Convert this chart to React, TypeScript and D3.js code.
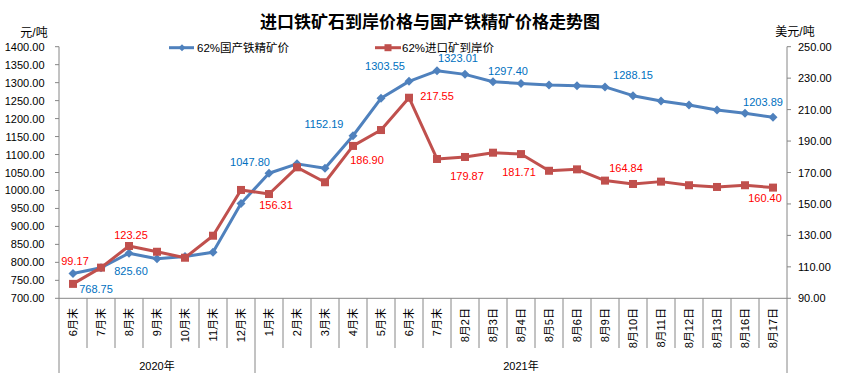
import React from 'react';
import * as d3 from 'd3';

const categories = ['6月末','7月末','8月末','9月末','10月末','11月末','12月末','1月末','2月末','3月末','4月末','5月末','6月末','7月末','8月2日','8月3日','8月4日','8月5日','8月6日','8月9日','8月10日','8月11日','8月12日','8月13日','8月16日','8月17日'];
const domesticPrice = [768.75,785,825.6,810,816,828,964,1047.8,1074,1062,1152.19,1256.5,1303.55,1333,1323.01,1302.6,1297.4,1293.5,1291.5,1288.15,1263.7,1249,1237.8,1223.9,1214.7,1203.89];
const importPrice = [99.17,109.5,123.25,119.6,115.8,129.8,158.9,156.31,173.3,163.8,186.9,197,217.55,178.6,179.87,182.6,181.71,171.1,172,164.84,162.7,164.2,161.9,160.8,161.9,160.4];
const yearLabels = ['2020年','2021年'];
const yearStarts = [0,7];
const yearEnds = [7,26];
const leftTicks = d3.range(700, 1401, 50);
const rightTicks = d3.range(90, 251, 20);
const labeledIdx = [0,2,7,10,12,14,16,19,25];
const seriesNames = ['62%国产铁精矿价','62%进口矿到岸价'];

// label placement (layout only)
const blueOffsets = [[23,15],[2,18],[-19,-11],[-29,-12],[-24,-15],[-7,-16],[-13,-13],[28,-12],[-10,-15]];
const redOffsets = [[2,-23],[2,-11],[7,11],[14,14],[28,-2],[2,19],[-2,18],[21,-13],[-8,10]];

const W = 842, H = 376;
const L = 59, R = 787, T = 46.7, B = 298.3;
const BLUE = '#4F81BD', RED = '#C0504D';
const FONT = '"Liberation Sans", "Noto Sans CJK SC", sans-serif';
const AXIS = '#868686';

export default function App() {
  const idx = d3.range(categories.length);
  const x = d3.scaleBand<number>().domain(idx).range([L, R]).padding(0);
  const cx = (i: number) => (x(i) as number) + x.bandwidth() / 2;
  const yL = d3.scaleLinear().domain([700, 1400]).range([B, T]);
  const yR = d3.scaleLinear().domain([90, 250]).range([B, T]);
  const fmt = d3.format('.2f');

  const blueLine = d3.line<number>().x((d, i) => cx(i)).y(d => yL(d))(domesticPrice) as string;
  const redLine = d3.line<number>().x((d, i) => cx(i)).y(d => yR(d))(importPrice) as string;

  const diamond = (px: number, py: number, r: number) => `M${px},${py - r}L${px + r},${py}L${px},${py + r}L${px - r},${py}Z`;

  return (
    <svg width={W} height={H} style={{ position: 'absolute', left: 0, top: 0, background: '#fff' }} fontFamily={FONT}>
      <rect x={0} y={0} width={W} height={H} fill="#fff" />
      <text x={430} y={22} textAnchor="middle" dominantBaseline="central" fontSize={17} fontWeight="bold" fill="#000">进口铁矿石到岸价格与国产铁精矿价格走势图</text>
      <text x={34} y={33} textAnchor="middle" dominantBaseline="central" fontSize={12} fill="#000">元/吨</text>
      <text x={795} y={32} textAnchor="middle" dominantBaseline="central" fontSize={12} fill="#000">美元/吨</text>

      {/* legend */}
      <line x1={169} x2={194} y1={47.7} y2={47.7} stroke={BLUE} strokeWidth={3} />
      <path d={diamond(182, 47.7, 3.5)} fill={BLUE} />
      <text x={197} y={47.7} dominantBaseline="central" fontSize={11.5} fill="#000">{seriesNames[0]}</text>
      <line x1={375} x2={401} y1={47.7} y2={47.7} stroke={RED} strokeWidth={3} />
      <rect x={384.5} y={44.2} width={7} height={7} fill={RED} />
      <text x={402} y={47.7} dominantBaseline="central" fontSize={11.5} fill="#000">{seriesNames[1]}</text>

      {/* left axis */}
      <line x1={L} x2={L} y1={T} y2={B} stroke={AXIS} strokeWidth={1} />
      {leftTicks.map(t => (
        <g key={'l' + t}>
          <line x1={L - 4} x2={L} y1={yL(t)} y2={yL(t)} stroke={AXIS} />
          <text x={44.5} y={yL(t)} textAnchor="end" dominantBaseline="central" fontSize={11} fill="#000">{fmt(t)}</text>
        </g>
      ))}
      {/* right axis */}
      <line x1={R} x2={R} y1={T} y2={B} stroke={AXIS} strokeWidth={1} />
      {rightTicks.map(t => (
        <g key={'r' + t}>
          <line x1={R} x2={R + 4} y1={yR(t)} y2={yR(t)} stroke={AXIS} />
          <text x={798} y={yR(t)} dominantBaseline="central" fontSize={11} fill="#000">{fmt(t)}</text>
        </g>
      ))}
      {/* x axis */}
      <line x1={L} x2={R} y1={B} y2={B} stroke={AXIS} />
      {d3.range(categories.length + 1).map(k => {
        const xx = L + k * x.bandwidth();
        const long = k === 0 || k === categories.length || yearStarts.includes(k);
        return <line key={'v' + k} x1={xx} x2={xx} y1={B} y2={long ? 373 : 348} stroke={AXIS} />;
      })}
      {idx.map(i => (
        <text key={'c' + i} transform={`translate(${cx(i)},308) rotate(-90)`} textAnchor="end" dominantBaseline="central" fontSize={11} fill="#000">{categories[i]}</text>
      ))}
      {yearLabels.map((lab, k) => (
        <text key={'y' + k} x={L + (yearStarts[k] + yearEnds[k]) / 2 * x.bandwidth()} y={366} textAnchor="middle" dominantBaseline="central" fontSize={11} fill="#000">{lab}</text>
      ))}

      {/* series */}
      <path d={blueLine} fill="none" stroke={BLUE} strokeWidth={3} strokeLinejoin="round" />
      {domesticPrice.map((v, i) => <path key={'bd' + i} d={diamond(cx(i), yL(v), 4.5)} fill={BLUE} />)}
      <path d={redLine} fill="none" stroke={RED} strokeWidth={3} strokeLinejoin="round" />
      {importPrice.map((v, i) => <rect key={'rs' + i} x={cx(i) - 4} y={yR(v) - 4} width={8} height={8} fill={RED} />)}

      {/* labels */}
      {labeledIdx.map((i, k) => (
        <text key={'bl' + i} x={cx(i) + blueOffsets[k][0]} y={yL(domesticPrice[i]) + blueOffsets[k][1]} textAnchor="middle" dominantBaseline="central" fontSize={11} fill="#0070C0">{fmt(domesticPrice[i])}</text>
      ))}
      {labeledIdx.map((i, k) => (
        <text key={'rl' + i} x={cx(i) + redOffsets[k][0]} y={yR(importPrice[i]) + redOffsets[k][1]} textAnchor="middle" dominantBaseline="central" fontSize={11} fill="#FF0000">{fmt(importPrice[i])}</text>
      ))}
    </svg>
  );
}
